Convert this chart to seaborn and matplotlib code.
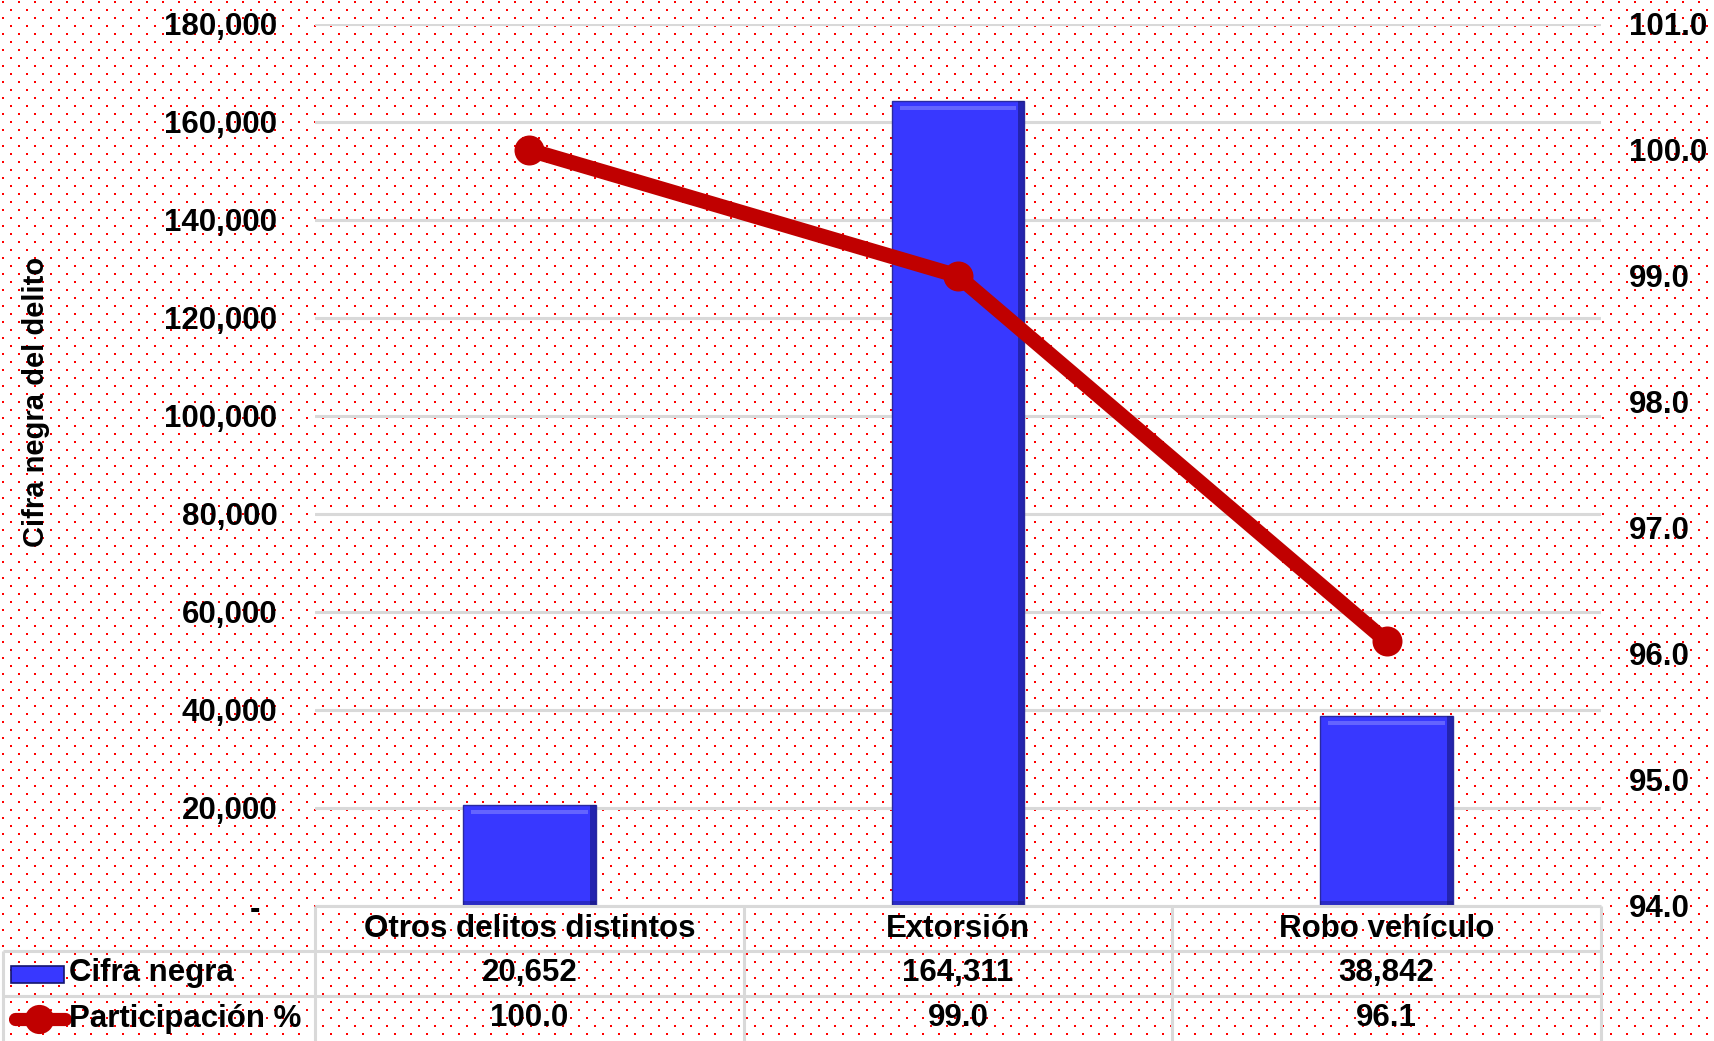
import numpy as np
import pandas as pd
import matplotlib
matplotlib.use("Agg")
import matplotlib.pyplot as plt
import seaborn as sns
from matplotlib.patches import Rectangle
from matplotlib.lines import Line2D
from matplotlib.ticker import FuncFormatter

# ------------------------------------------------------------
# Datos del gráfico
# ------------------------------------------------------------
categorias = ["Otros delitos distintos", "Extorsión", "Robo vehículo"]
cifra_negra = [20652, 164311, 38842]
participacion = [100.0, 99.0, 96.1]
ticks_izq = [0, 20000, 40000, 60000, 80000, 100000, 120000, 140000, 160000, 180000]
ticks_der = [94.0, 95.0, 96.0, 97.0, 98.0, 99.0, 100.0, 101.0]
serie_barras = "Cifra negra"
serie_linea = "Participación %"
titulo_eje = "Cifra negra del delito"

AZUL = "#3838FF"
AZUL_OSCURO = "#15156E"
ROJO = "#C00000"
GRIS = "#D9D9D9"

W, H = 1714, 1041
# geometría en píxeles
AX_L, AX_R, AX_T, AX_B = 315, 1601, 24, 906
UNIDAD = (AX_R - AX_L) / 3.0  # píxeles por categoría

sns.set_theme(style="white")
plt.rcParams["font.family"] = ["Liberation Sans", "DejaVu Sans"]
plt.rcParams["font.weight"] = "bold"
plt.rcParams["text.color"] = "black"
plt.rcParams["ytick.color"] = "black"
plt.rcParams["xtick.color"] = "black"
FS = 22.5

fig = plt.figure(figsize=(W / 100, H / 100), dpi=100, facecolor="white")

# Fondo con puntos rojos
fondo = np.ones((H, W, 3))
for k, y in enumerate(range(1, H, 8)):
    x0 = 2 if k % 2 == 0 else 10
    for dy in (0, 1):
        if y + dy < H:
            fondo[y + dy, x0::16] = (1, 0, 0)
            fondo[y + dy, x0 + 1::16] = (1, 0, 0)
bg = fig.add_axes([0, 0, 1, 1], zorder=-10)
bg.imshow(fondo, aspect="auto", interpolation="nearest")
bg.axis("off")

# Ejes principales
ax = fig.add_axes([AX_L / W, (H - AX_B) / H, (AX_R - AX_L) / W, (AX_B - AX_T) / H])
ax.patch.set_alpha(0)

df = pd.DataFrame({"categoria": categorias, "cifra": cifra_negra})
sns.barplot(data=df, x="categoria", y="cifra", color=AZUL, saturation=1,
            width=0.31, edgecolor="#2A2AA0", linewidth=1.0, ax=ax, zorder=3)

ax.set_xlim(-0.5, 2.5)
ax.set_ylim(0, 180000)
ax.set_yticks(ticks_izq)
ax.yaxis.set_major_formatter(FuncFormatter(lambda v, p: "-  " if v == 0 else f"{v:,.0f}"))
ax.tick_params(axis="y", length=0, pad=27, labelsize=FS, labelcolor="black")
ax.tick_params(axis="x", bottom=False, labelbottom=False)
ax.set_xlabel("")
ax.set_ylabel("")
ax.yaxis.grid(True, color=GRIS, linewidth=2.2)
ax.set_axisbelow(True)
for s in ax.spines.values():
    s.set_visible(False)

# Efecto biselado en las barras
px_y = 180000 / (AX_B - AX_T)
px_x = 1 / UNIDAD
for barra in list(ax.patches):
    x, w, h = barra.get_x(), barra.get_width(), barra.get_height()
    ax.add_patch(Rectangle((x + w - 6 * px_x, 0), 6 * px_x, h, color=AZUL_OSCURO,
                           alpha=0.55, lw=0, zorder=4))
    ax.add_patch(Rectangle((x, 0), w, 5 * px_y, color=AZUL_OSCURO,
                           alpha=0.4, lw=0, zorder=4))
    ax.add_patch(Rectangle((x + 8 * px_x, h - 9 * px_y), w - 16 * px_x, 4 * px_y,
                           color="#7070FF", alpha=0.8, lw=0, zorder=4))

# Eje secundario con la participación
ax2 = ax.twinx()
sns.lineplot(x=np.arange(len(participacion)), y=participacion, ax=ax2, color=ROJO,
             linewidth=10.8, marker="o", markersize=21.6, markeredgewidth=0, zorder=5)
ax2.set_ylim(94, 101)
ax2.set_yticks(ticks_der)
ax2.yaxis.set_major_formatter(FuncFormatter(lambda v, p: f"{v:.1f}"))
ax2.tick_params(axis="y", length=0, pad=20, labelsize=FS, labelcolor="black")
ax2.set_ylabel("")
ax2.set_xlim(-0.5, 2.5)
for s in ax2.spines.values():
    s.set_visible(False)

# Título del eje izquierdo
fig.text(36 / W, 1 - 402 / H, titulo_eje, rotation=90, ha="center", va="center",
         fontsize=21, fontweight="bold", color="black")

# Tabla de datos bajo el gráfico
x_izq = -0.5 - (AX_L - 3) / UNIDAD
tax = fig.add_axes([3 / W, 0, (AX_R - 3) / W, (H - AX_B) / H])
tax.set_xlim(x_izq, 2.5)
tax.set_ylim(3, 0)
tax.axis("off")
tax.patch.set_alpha(0)

tax.hlines(0, -0.5, 2.5, color=GRIS, lw=2.2, clip_on=False)
tax.hlines([1, 2], x_izq, 2.5, color=GRIS, lw=2.2, clip_on=False)
tax.vlines([-0.5, 0.5, 1.5, 2.5], 0, 3, color=GRIS, lw=2.2, clip_on=False)
tax.vlines(x_izq, 1, 3, color=GRIS, lw=2.2, clip_on=False)

for i, cat in enumerate(categorias):
    tax.text(i, 0.52, cat, ha="center", va="center", fontsize=FS, fontweight="bold")
    tax.text(i, 1.5, f"{cifra_negra[i]:,}", ha="center", va="center", fontsize=FS, fontweight="bold")
    tax.text(i, 2.5, f"{participacion[i]:.1f}", ha="center", va="center", fontsize=FS, fontweight="bold")

x_txt = x_izq + 66 / UNIDAD
tax.text(x_txt, 1.5, serie_barras, ha="left", va="center", fontsize=FS, fontweight="bold")
tax.text(x_txt, 2.5, serie_linea, ha="left", va="center", fontsize=FS, fontweight="bold")

# Símbolos de la leyenda
tax.add_patch(Rectangle((x_izq + 8 / UNIDAD, 1.33), 53 / UNIDAD, 0.38,
                        facecolor=AZUL, edgecolor=AZUL_OSCURO, lw=1.2, clip_on=False))
tax.add_line(Line2D([x_izq + 12 / UNIDAD, x_izq + 62 / UNIDAD], [2.5, 2.5], color=ROJO,
                    lw=9.5, solid_capstyle="round", clip_on=False))
tax.add_line(Line2D([x_izq + 36 / UNIDAD], [2.5], color=ROJO, marker="o",
                    markersize=21, markeredgewidth=0, clip_on=False))

fig.savefig("out.png", dpi=100, facecolor="white")
